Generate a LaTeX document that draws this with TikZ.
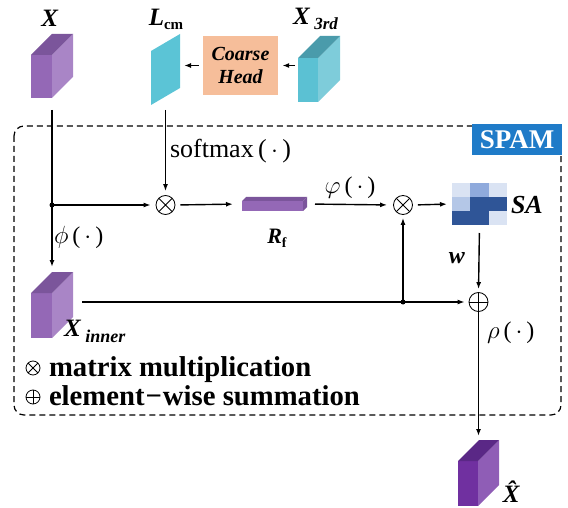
\documentclass[tikz,border=0pt]{standalone}
\usepackage{fontspec}
\setmainfont{Liberation Serif}
\usetikzlibrary{arrows.meta,calc}
\definecolor{pF}{HTML}{9468B6}
\definecolor{pS}{HTML}{A985C6}
\definecolor{pT}{HTML}{7B559B}
\definecolor{tF}{HTML}{5BC1D3}
\definecolor{tS}{HTML}{7ECCDA}
\definecolor{tT}{HTML}{4A9BAB}
\definecolor{hF}{HTML}{7030A0}
\definecolor{hS}{HTML}{8F5DB6}
\definecolor{hT}{HTML}{5A2886}
\definecolor{lcmC}{HTML}{5BC4D6}
\definecolor{coarseC}{HTML}{F6BE9A}
\definecolor{spamC}{HTML}{1F7BC8}
\definecolor{saVL}{HTML}{DAE3F3}
\definecolor{saM}{HTML}{8FAADC}
\definecolor{saLM}{HTML}{B4C7E7}
\definecolor{saD}{HTML}{2F5597}
\newcommand\fs[2]{\fontsize{#1}{#2}\selectfont}
\newcommand\bi[1]{\textbf{\textit{#1}}}
\newcommand\cubeat[8]{%
  \fill[#6] (#1,#2) rectangle ++(#3,#4);
  \fill[#7] ({#1+#3},#2) -- ++(#5,-#5) -- ++(0,#4) -- ++(-#5,#5) -- cycle;
  \fill[#8] (#1,#2) -- ++(#5,-#5) -- ++(#3,0) -- ++(-#5,#5) -- cycle;
}
\begin{document}
\begin{tikzpicture}[x=1pt,y=-1pt,
  arr/.style={line width=1.4pt,-{Latex[length=7pt,width=5pt]}},
  anch/.style 2 args={inner sep=0pt,outer sep=0pt,minimum width=#1pt,minimum height=#2pt},
  lbl/.style={inner sep=0pt,outer sep=0pt},
  otimesnode/.style={circle,draw,line width=0.8pt,inner sep=0pt,minimum size=#1pt,
    path picture={\draw[line width=0.8pt] ($(path picture bounding box.center)+(45:#1pt/2)$) -- ($(path picture bounding box.center)+(225:#1pt/2)$)
      ($(path picture bounding box.center)+(135:#1pt/2)$) -- ($(path picture bounding box.center)+(315:#1pt/2)$);}},
  oplusnode/.style={circle,draw,line width=0.8pt,inner sep=0pt,minimum size=#1pt,
    path picture={\draw[line width=0.8pt] (path picture bounding box.north) -- (path picture bounding box.south)
      (path picture bounding box.west) -- (path picture bounding box.east);}},
  dot/.style={circle,fill,inner sep=0pt,minimum size=5pt}]
\useasboundingbox (0,0) rectangle (568,508);

% dashed frame and SPAM tag
\draw[line width=1.2pt,dash pattern=on 6pt off 4pt,rounded corners=10pt] (14,126) rectangle (561,415);
\node[fill=spamC,text=white,inner sep=0pt,minimum width=90pt,minimum height=31pt,font=\fs{27}{30}\bfseries] (spam) at (517,139.5) {SPAM};

% cubes
\cubeat{31}{55}{21}{43}{21}{pF}{pS}{pT}
\node[anch={42}{64}] (X) at (52,66) {};
\cubeat{31}{293}{21}{45}{21}{pF}{pS}{pT}
\node[anch={42}{66}] (Xin) at (52,305) {};
\cubeat{298}{58}{20}{44}{22}{tF}{tS}{tT}
\node[anch={42}{66}] (X3) at (319,69) {};
\cubeat{458}{461}{20}{45}{21}{hF}{hS}{hT}
\node[anch={41}{66}] (Xhat) at (478.5,473) {};
\cubeat{242}{201}{61}{10}{4}{pF}{pT}{pT}
\node[anch={65}{14}] (Rf) at (274.5,204) {};
\fill[lcmC] (151,51) -- (180,34) -- (180,88) -- (151,105) -- cycle;
\node[anch={29}{71}] (Lcm) at (165.5,69.5) {};

% coarse head
\node[fill=coarseC,inner sep=0pt,minimum width=75pt,minimum height=59pt,align=center,font=\fs{20}{23}\bfseries\itshape] (coarse) at (240.5,65.5) {Coarse\\Head};

% SA matrix
\foreach \cl [count=\i from 0] in {saVL,saM,saVL,saLM,saD,saD,saD,saD,saVL}{
  \pgfmathtruncatemacro\rr{int(\i/3)}
  \pgfmathtruncatemacro\cc{mod(\i,3)}
  \fill[\cl] ({452+\cc*18.333},{183+\rr*14}) rectangle ++(18.333,14);
}
\node[anch={55}{42}] (SA) at (479.5,204) {};

% operators
\node[otimesnode=19] (ot1) at (165.5,205) {};
\node[otimesnode=19] (ot2) at (403,205) {};
\node[oplusnode=19] (op) at (478.5,302) {};
\coordinate (J1) at (X.south |- ot1);
\coordinate (J2) at (ot2 |- op);

% connectors
\draw[arr,shorten <=3pt,shorten >=4pt] (X3.west |- coarse.east) -- (coarse.east);
\draw[arr,shorten <=4pt,shorten >=4pt] (coarse.west) -- (coarse.west -| Lcm.east);
\draw[arr,shorten <=12pt,shorten >=5pt] (X.south) -- (Xin.north);
\draw[arr,shorten >=5pt] (J1) -- (ot1.west);
\draw[arr,shorten <=5pt,shorten >=4pt] (Lcm.south) -- (ot1.north);
\draw[arr,shorten <=5pt,shorten >=9pt] (ot1.east) -- (Rf.west);
\draw[arr,shorten <=8pt,shorten >=6pt] (Rf.east) -- (ot2.west);
\draw[arr,shorten <=5pt,shorten >=5pt] (ot2.east) -- (SA.west);
\draw[arr,shorten <=8pt,shorten >=3pt] (SA.south) -- (op.north);
\draw[arr,shorten <=9pt,shorten >=4pt] (Xin.east |- op) -- (op.west);
\draw[arr,shorten >=3pt] (J2) -- (ot2.south);
\draw[arr,shorten >=4pt] (op.south) -- (Xhat.north);
\node[dot] (d1) at (J1) {};
\node[dot] (d2) at (J2) {};

% labels
\node[lbl] (tX) at (50,18) {\fs{25}{28}\bi{X}};
\node[lbl] (tL) at (166,19) {\fs{25}{28}\bi{L}\raisebox{-4pt}{\fs{15}{15}\textbf{cm}}};
\node[lbl,anchor=west] (tX3) at (293,19) {\fs{25}{28}\bi{X}\,\raisebox{-5pt}{\fs{17}{17}\bi{3rd}}};
\node[lbl,anchor=west] (tXin) at (64,331) {\fs{25}{28}\bi{X}\,\raisebox{-6pt}{\fs{18}{18}\bi{inner}}};
\node[lbl] (tXhat) at (514,492) {\fs{25}{28}\bi{\^{X}}};
\node[lbl] (tRf) at (277,238) {\fs{22}{26}\bi{R}\raisebox{-4pt}{\fs{14}{14}\textbf{f}}};
\node[lbl,anchor=west] (tSA) at (511,205) {\fs{26}{28}\bi{SA}};
\node[lbl] (tw) at (457,258) {\fs{24}{26}\bi{w}};
\node[lbl,anchor=west] (tsm) at (170,151) {\fs{26}{28}softmax\,(\,$\cdot$\,)};
\node[lbl,anchor=west] (tphi) at (54,237) {\fs{24}{28}$\phi$\,(\,$\cdot$\,)};
\node[lbl] (tvphi) at (350,188) {\fs{24}{28}$\varphi$\,(\,$\cdot$\,)};
\node[lbl,anchor=west] (trho) at (487,333) {\fs{24}{28}$\rho$\,(\,$\cdot$\,)};

% legend
\node[otimesnode=14] (lg1) at (33,368) {};
\node[oplusnode=14] (lg2) at (33,397) {};
\node[lbl,anchor=base west] (lt1) at (49,376) {\fs{28.7}{31}\textbf{matrix multiplication}};
\node[lbl,anchor=base west] (lt2) at (49,405) {\fs{28.7}{31}\textbf{element\kern1pt−\kern1pt wise summation}};
\end{tikzpicture}
\end{document}
